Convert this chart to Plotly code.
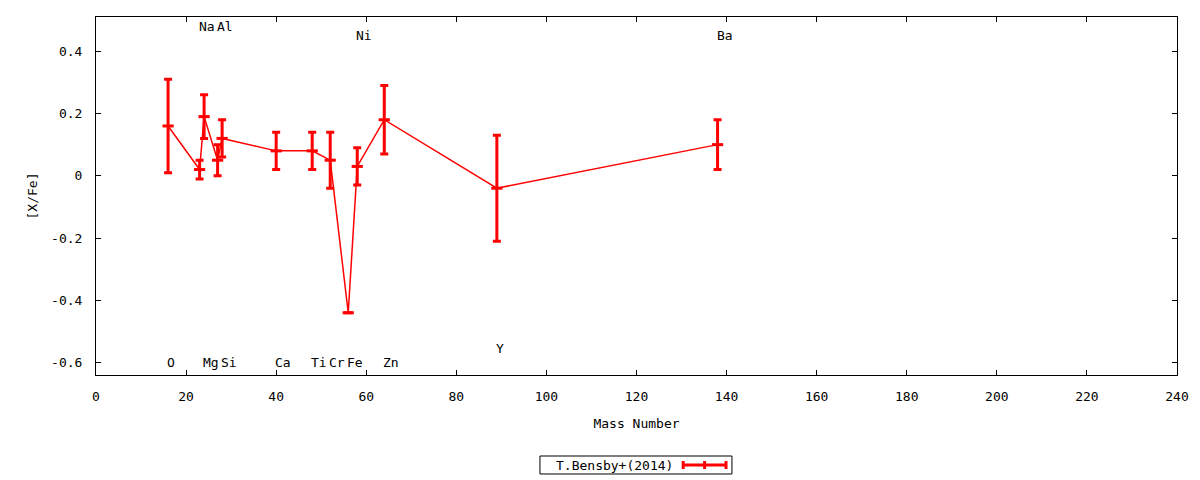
import plotly.graph_objects as go

# [X/Fe] abundance ratios vs mass number
elements = ["O", "Na", "Mg", "Al", "Si", "Ca", "Ti", "Cr", "Fe", "Ni", "Zn", "Y", "Ba"]
mass_number = [16, 23, 24, 27, 28, 40, 48, 52, 56, 58, 64, 89, 138]
x_fe = [0.16, 0.02, 0.19, 0.05, 0.12, 0.08, 0.08, 0.05, -0.44, 0.03, 0.18, -0.04, 0.10]
x_fe_err = [0.15, 0.03, 0.07, 0.05, 0.06, 0.06, 0.06, 0.09, 0.0, 0.06, 0.11, 0.17, 0.08]

# element name labels (alternating above / below)
label_y = [-0.60, 0.48, -0.60, 0.48, -0.60, -0.60, -0.60, -0.60, -0.60, 0.45, -0.60, -0.555, 0.45]

y_tick_vals = [-0.6, -0.4, -0.2, 0, 0.2, 0.4]
y_tick_text = ["-0.6", "-0.4", "-0.2", "0", "0.2", "0.4"]
x_tick_vals = list(range(0, 241, 20))

legend_name = "T.Bensby+(2014)"

FONT = "DejaVu Sans Mono"
FS = 13
RED = "#ff0000"

fig = go.Figure()

fig.add_trace(go.Scatter(
    x=mass_number, y=x_fe,
    mode="lines+markers",
    line=dict(color=RED, width=1.5),
    marker=dict(symbol="line-ew", size=8, color=RED, line=dict(color=RED, width=3)),
    error_y=dict(type="data", array=x_fe_err, visible=True, color=RED, thickness=3, width=4),
    name=legend_name,
    showlegend=False,
))

# element labels
for el, m, ly in zip(elements, mass_number, label_y):
    fig.add_annotation(x=m, y=ly, text=el, showarrow=False, xanchor="left", yanchor="middle",
                       xshift=-3, font=dict(family=FONT, size=FS, color="black"))

# hand-made legend box (text on the left, sample on the right like gnuplot)
fig.add_shape(type="rect", xref="paper", yref="paper", x0=0.4107, x1=0.5883, y0=-0.2765, y1=-0.2263,
              line=dict(color="black", width=1), fillcolor="white")
fig.add_annotation(xref="paper", yref="paper", x=0.5356, y=-0.2514, text=legend_name, showarrow=False,
                   xanchor="right", yanchor="middle", font=dict(family=FONT, size=FS, color="black"))
fig.add_shape(type="line", xref="paper", yref="paper", x0=0.5432, x1=0.5828, y0=-0.2514, y1=-0.2514,
              line=dict(color=RED, width=3))
for px in [0.5432, 0.5630, 0.5828]:
    fig.add_shape(type="line", xref="paper", yref="paper", x0=px, x1=px, y0=-0.2626, y1=-0.2402,
                  line=dict(color=RED, width=3))

axis_common = dict(
    showgrid=False, zeroline=False, showline=True, linecolor="black", linewidth=1,
    mirror="ticks", ticks="inside", ticklen=5, tickcolor="black",
    tickfont=dict(family=FONT, size=FS, color="black"),
)

fig.update_layout(
    width=1200, height=480,
    margin=dict(l=96, r=23, t=17, b=105),
    plot_bgcolor="white", paper_bgcolor="white",
    font=dict(family=FONT, size=FS, color="black"),
    xaxis=dict(range=[0, 240], tickvals=x_tick_vals, ticklabelstandoff=9,
               title=dict(text="Mass Number", standoff=16, font=dict(family=FONT, size=FS)),
               **axis_common),
    yaxis=dict(range=[-0.64, 0.51], tickvals=y_tick_vals, ticktext=y_tick_text, ticklabelstandoff=10,
               title=dict(text="[X/Fe]", standoff=10, font=dict(family=FONT, size=FS)),
               **axis_common),
)

# drop the default page margin so the figure sits at the window's top-left corner
fig.write_html("out.html", config={"displayModeBar": False},
               post_script="document.body.style.margin='0';")
